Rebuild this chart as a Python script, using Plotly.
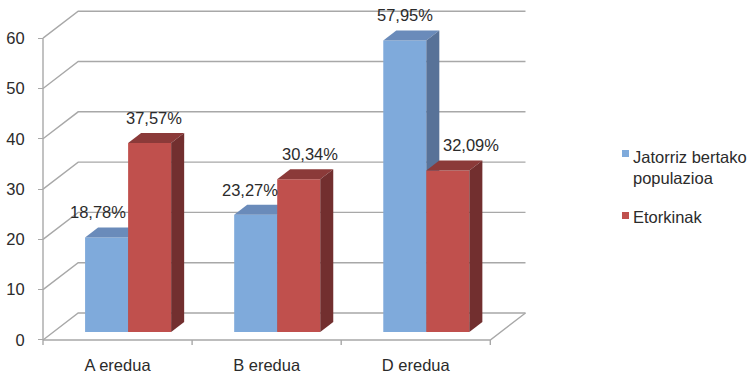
import plotly.graph_objects as go

# ---- data ----
categories = ["A eredua", "B eredua", "D eredua"]
series_names = ["Jatorriz bertako<br>populazioa", "Etorkinak"]
native_values = [18.78, 23.27, 57.95]
immigrant_values = [37.57, 30.34, 32.09]
y_ticks = [0, 10, 20, 30, 40, 50, 60]

# ---- style ----
FONT = "Liberation Sans"
TXT = "#2b2b2b"
GRID = "#a8a8a8"
FS = 16.5
front_cols = ["#7FAADB", "#C0504D"]
top_cols = ["#6A8BBA", "#8B3A39"]
side_cols = ["#587298", "#722F2F"]
label_nudge_px = [[-9, -6, 0], [4, 11, 23]]

# 3D projection offsets (in axis units)
DX = 0.236   # depth shift in x (category units)
DY = 5.36    # depth shift in y (value units)
W = 0.2886   # bar width
F0, F1 = 0.30, 0.67  # bar depth span (fraction of floor depth)
n = len(categories)
ymax = y_ticks[-1]

fig = go.Figure()

# ---- walls / grid ----
gx, gy = [], []
for v in y_ticks:
    gx += [0, DX, n + DX, None]
    gy += [v, v + DY, v + DY, None]
gx += [0, n, n + DX, None]
gy += [0, 0, DY, None]
gx += [0, 0, None]
gy += [0, ymax, None]
for i in range(n + 1):
    gx += [i, i, None]
    gy += [0, -1.0, None]
fig.add_trace(go.Scatter(x=gx, y=gy, mode="lines",
                         line=dict(color=GRID, width=1.4),
                         hoverinfo="skip", showlegend=False))

# ---- bars ----
series = [native_values, immigrant_values]
dd = F1 - F0
for s, vals in enumerate(series):
    for i, v in enumerate(vals):
        xl = i + 0.5 - W + s * W + F0 * DX
        b = F0 * DY
        xr = xl + W
        ox, oy = dd * DX, dd * DY
        fig.add_trace(go.Scatter(
            x=[xl, xr, xr, xl, xl], y=[b, b, b + v, b + v, b],
            fill="toself", fillcolor=front_cols[s], mode="lines",
            line=dict(width=0), name=series_names[s].replace("<br>", " "),
            hoverinfo="skip", showlegend=False))
        fig.add_trace(go.Scatter(
            x=[xl, xr, xr + ox, xl + ox, xl],
            y=[b + v, b + v, b + v + oy, b + v + oy, b + v],
            fill="toself", fillcolor=top_cols[s], mode="lines",
            line=dict(width=0), hoverinfo="skip", showlegend=False))
        fig.add_trace(go.Scatter(
            x=[xr, xr + ox, xr + ox, xr, xr],
            y=[b, b + oy, b + v + oy, b + v, b],
            fill="toself", fillcolor=side_cols[s], mode="lines",
            line=dict(width=0), hoverinfo="skip", showlegend=False))
        fig.add_annotation(
            x=xl + W / 2, y=b + v, xref="x", yref="y",
            text=f"{v:.2f}".replace(".", ",") + "%",
            showarrow=False, yshift=25, xshift=label_nudge_px[s][i],
            font=dict(family=FONT, size=FS, color=TXT))

# ---- layout geometry ----
L, R, T, B = 36, 220, 8, 30
pw = 751 - L - R
ph = 375 - T - B
x_lo = -7 / 149.1

fig.update_layout(
    width=751, height=375,
    margin=dict(l=L, r=R, t=T, b=B),
    paper_bgcolor="white", plot_bgcolor="white",
    showlegend=False,
    font=dict(family=FONT, size=FS, color=TXT),
    xaxis=dict(range=[x_lo, x_lo + pw / 149.1], showgrid=False, zeroline=False,
               showline=False, tickmode="array", automargin=False,
               tickvals=[i + 0.5 for i in range(n)], ticktext=categories,
               ticks="", ticklabelstandoff=8,
               tickfont=dict(family=FONT, size=FS, color=TXT)),
    yaxis=dict(range=[-1, 66], showgrid=False, zeroline=False, showline=False,
               tickmode="array", tickvals=y_ticks, automargin=False,
               ticks="outside", ticklen=5, tickcolor=GRID, tickwidth=1.4,
               anchor="free", position=7 / pw, ticklabelstandoff=10,
               tickfont=dict(family=FONT, size=FS, color=TXT)),
)

# ---- legend (manual) ----
def px2paper(px, py):
    return (px - L) / pw, (375 - B - py) / ph

leg_items = [(series_names[0], 154, 167), (series_names[1], 216, 217)]
for s, (name, sq_y, txt_y) in enumerate(leg_items):
    x0, y0 = px2paper(622, sq_y - 4)
    x1, y1 = px2paper(629, sq_y + 3)
    fig.add_shape(type="rect", xref="paper", yref="paper",
                  x0=x0, x1=x1, y0=y1, y1=y0,
                  fillcolor=front_cols[s], line=dict(width=0))
    ax, ay = px2paper(631, txt_y)
    fig.add_annotation(x=ax, y=ay, xref="paper", yref="paper",
                       text=name, showarrow=False, xanchor="left",
                       yanchor="middle", align="left",
                       font=dict(family=FONT, size=FS, color=TXT))

fig.write_html("out.html")
